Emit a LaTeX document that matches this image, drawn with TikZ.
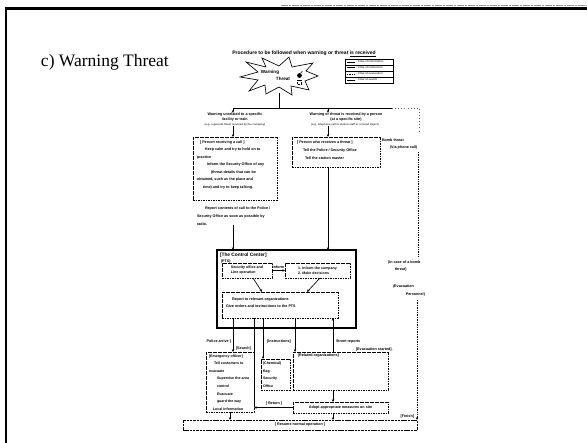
\documentclass[tikz,border=0pt]{standalone}
\usepackage{fontspec}
\setmainfont{Liberation Serif}
\setsansfont{Liberation Sans}
\usetikzlibrary{arrows.meta}
\begin{document}
\begin{tikzpicture}[x=1pt,y=-1pt,
  every node/.style={inner sep=0pt,outer sep=0pt},
  tx/.style={font=\fontsize{3.7}{4.8}\selectfont\sffamily\bfseries,text=black},
  txl/.style={font=\fontsize{3.7}{7.5}\selectfont\sffamily\bfseries,text=black,align=left},
  txs/.style={font=\fontsize{2.7}{3.2}\selectfont\sffamily\bfseries,text=black!75},
  dbox/.style={draw,line width=0.55pt,dash pattern=on 1.6pt off 0.9pt},
  arr/.style={-{Stealth[length=2.8pt,width=2.4pt]},line width=0.65pt},
  ln/.style={line width=0.65pt},
  dln/.style={line width=0.9pt,dash pattern=on 1pt off 0.7pt},
]
\useasboundingbox (0,0) rectangle (587,443);

% slide frame
\draw[line width=2.2pt] (6,443) -- (6,8.5) -- (587,8.5);
\draw[black!40,line width=0.8pt,dash pattern=on 7pt off 1pt on 2pt off 1pt] (281,5.5) -- (587,5.5);

% slide heading
\node[font=\fontsize{17.5}{20}\selectfont,anchor=base west] (head) at (41,67) {c) Warning Threat};

% chart title
\node[tx,font=\fontsize{5}{5.5}\selectfont\sffamily\bfseries,anchor=base] (title) at (304,55)
  {Procedure to be followed when warning or threat \underline{is received}};

% legend
\node[draw,line width=0.55pt,minimum width=48,minimum height=24,anchor=north west] (legend) at (345,59) {};
\draw[line width=0.45pt] (345,65) -- (393,65) (345,71) -- (393,71) (345,77) -- (393,77);
\draw[line width=0.5pt] (347,62) -- (355,62);
\draw[line width=1pt] (347,68) -- (355,68);
\draw[line width=0.5pt,dash pattern=on 1pt off 0.7pt] (347,74) -- (355,74);
\draw[line width=0.5pt,dash pattern=on 0.4pt off 0.6pt] (347,80) -- (355,80);
\node[txs,anchor=west] (lg1) at (356.5,62) {: Flow of information};
\node[txs,anchor=west] (lg2) at (356.5,68) {: Flow of instruction};
\node[txs,anchor=west] (lg3) at (356.5,74) {: Flow of evacuation};
\node[txs,anchor=west] (lg4) at (356.5,80) {: Flow of search};

% explosion symbol with the warning
\draw[line width=0.65pt,fill=white] (318,76) -- (305,81) -- (309,90) -- (291,86) -- (292,95) -- (279,87)
  -- (266,94) -- (265,85) -- (249,91) -- (258,80) -- (240,77) -- (258,72) -- (246,62) -- (266,67)
  -- (262,58) -- (279,66) -- (289,57) -- (292,67) -- (313,63) -- (306,71) -- cycle;
\node[tx,font=\fontsize{4.6}{5}\selectfont\sffamily\bfseries] (warn) at (270,72) {Warning};
\node[tx,font=\fontsize{4.6}{5}\selectfont\sffamily\bfseries] (threat) at (283,79) {Threat};
\fill (299.5,75.5) circle (2.4);
\draw[line width=0.5pt] (300.5,73.3) -- (302.5,71);
\draw[line width=0.4pt,dash pattern=on 0.8pt off 0.5pt] (297.5,80.5) rectangle (301.5,84);

% split below the warning
\coordinate (starb) at (279,93);
\coordinate (hm) at (279,108);
\coordinate (hl) at (233,108);
\coordinate (hr) at (328,108);
\coordinate (hend) at (392,108);
\draw[ln] (starb) -- (hm);
\draw[line width=0.8pt] (hl) -- (hend);

% ---------- left branch ----------
\node[tx,align=center] (lhead) at (235,117) {Warning unrelated to a specific\\facility or train};
\node[txs] (lnote) at (235,125) {(e.g. a general threat received by the company)};
\draw[arr] (hl) -- (hl |- lhead.north);
\node[dbox,minimum width=84,minimum height=63,anchor=north west] (lbox) at (193,137) {};
\draw[arr] (lnote.south -| hl) -- (hl |- lbox.north);
\node[txl,anchor=north west] (ltxt) at (197,140.5)
  {\hspace{3pt}[ Person receiving a call ]\\
   \hspace{8pt}Keep calm and try to hold on to\\
   practice\\
   \hspace{10pt}Inform the Security Office of any\\
   \hspace{14pt}(threat details that can be\\
   obtained, such as the place and\\
   \hspace{6pt}time) and try to keep talking.};
\node[txl,align=left,anchor=north west,font=\fontsize{3.7}{7.8}\selectfont\sffamily\bfseries] (rep) at (197,207)
  {\hspace{8pt}Report contents of call to the Police /\\
   Security Office as soon as possible by\\
   radio.};

% ---------- right branch ----------
\node[tx,align=center] (rhead) at (346,117) {Warning or threat is received by a person\\(at a specific site)};
\node[txs] (rnote) at (345,125) {(e.g. telephone call to station staff or a found object)};
\draw[arr] (hr) -- (hr |- rhead.north);
\node[dbox,minimum width=88,minimum height=30,anchor=north west] (rbox) at (292,137) {};
\draw[arr] (rnote.south -| hr) -- (hr |- rbox.north);
\node[txl,anchor=north west,font=\fontsize{3.7}{8}\selectfont\sffamily\bfseries] (rtxt) at (297,140.5)
  {[ Person who receives a threat ]\\
   \hspace{6pt}Tell the Police / Security Office\\
   \hspace{8pt}Tell the station master};

% outer route on the right
\draw[black!60,line width=0.5pt,dash pattern=on 0.6pt off 2.5pt] (hend) -- (419,108) -- (419,132);
\node[tx,anchor=west] (bt1) at (382,140) {Bomb threat};
\node[tx,anchor=west] (bt2) at (390,148) {(Via phone call)};
\coordinate (rv1) at (418,152);
\coordinate (rv2) at (418,257);
\draw[dln] (rv1) -- (rv2);
\node[tx,anchor=west] (rl1) at (388,263) {(In case of a bomb};
\node[tx,anchor=west] (rl2) at (395,270) {threat)};
\node[tx,anchor=west] (rl3) at (393,287) {(Evacuation};
\node[tx,anchor=east] (rl4) at (425,295) {Personnel)};
\coordinate (rv3) at (417,300);

% ---------- control center ----------
\node[draw,line width=2.8pt,minimum width=139,minimum height=78,anchor=north west] (cc) at (217,250) {};
\draw[arr] (rep.south -| hl) -- (hl |- cc.north);
\draw[arr] (rbox.south -| hr) -- (hr |- cc.north);
\node[tx,font=\fontsize{4.8}{5}\selectfont\sffamily\bfseries,anchor=base west] (cct) at (220,256.5) {[The Control Center]};
\node[tx,anchor=base west] (pts) at (221,262.5) {(PTS)};
\node[dbox,minimum width=50,minimum height=15,anchor=north west] (ca) at (222,263) {};
\node[tx,align=left,font=\fontsize{3.6}{5}\selectfont\sffamily\bfseries] (catx) at (ca.center) {Security office and\\Line operation};
\node[dbox,minimum width=65,minimum height=15,anchor=north west] (cb) at (285,263) {};
\node[tx,align=left,font=\fontsize{3.6}{5.5}\selectfont\sffamily\bfseries] (cbtx) at (cb.center) {1. Inform the company\\2. Make decisions};
\node[tx] (inf) at (278.5,267.5) {Inform};
\draw[arr] (ca.east) -- (cb.west);
\node[dbox,minimum width=116,minimum height=26,anchor=north west] (cc2) at (222,292) {};
\draw[arr] ([xshift=6pt]ca.south) -- ([xshift=-18pt]cc2.north);
\draw[arr] ([xshift=2.5pt]cb.south) -- ([xshift=27pt]cc2.north);
\node[tx,anchor=base west] (c2a) at (226,301) {\hspace{6pt}Report to relevant organizations};
\node[tx,anchor=base west] (c2b) at (226,308) {Give orders and instructions to the PTS};

% ---------- field response ----------
\coordinate (d1) at (233,318);
\coordinate (d2) at (254,318);
\coordinate (d3) at (263,318);
\coordinate (d4) at (295,318);
\coordinate (d5) at (333,318);

\node[dbox,minimum width=48,minimum height=60,anchor=north west] (lbox2) at (206,352) {};
\node[dbox,minimum width=29,minimum height=31,anchor=north west] (chem) at (261,359) {};
\node[dbox,minimum width=95,minimum height=38,anchor=north west] (rel) at (293,352) {};
\node[dbox,minimum width=95,minimum height=11,anchor=north west] (adapt) at (293,402) {};
\node[draw,line width=0.55pt,dash pattern=on 2.5pt off 0.8pt,minimum width=234,minimum height=10,anchor=north west] (bot) at (183,420) {};

\draw[arr] (d1) -- (d1 |- lbox2.north);
\draw[ln] (d2) -- (d2 |- adapt.west);
\draw[arr] (d3) -- (d3 |- chem.north);
\draw[arr] (d4) -- (d4 |- rel.north);
\draw[arr] (d5 |- rel.north) -- (d5);

\node[tx,anchor=east] (pol) at (231,342) {Police arrive ]};
\node[tx,anchor=west] (srch) at (236,349) {[Search]};
\node[tx] (instr) at (279,342) {[Instructions]};
\node[tx,anchor=west] (strep) at (336,342) {Street reports};
\node[tx,anchor=west] (evg) at (356,350) {[Evacuation started].};

\node[txl,anchor=north west,font=\fontsize{3.6}{7.6}\selectfont\sffamily\bfseries] (l2txt) at (209,354.5)
  {[Emergency officer]\\
   \hspace{5pt}Tell customers to\\
   evacuate\\
   \hspace{8pt}Supervise the area\\
   \hspace{8pt}control\\
   \hspace{8pt}Evacuate\\
   \hspace{8pt}guard the way\\
   \hspace{4pt}Local information};
\node[txl,anchor=north west,font=\fontsize{3.6}{7.9}\selectfont\sffamily\bfseries] (chtxt) at (263,361.5)
  {(Chemical)\\Bag\\Security\\Office};
\node[tx,anchor=base west] (reltx) at (298,357) {[Related organizations]};
\node[tx] (adtx) at (adapt.center) {Adopt appropriate measures on site};

\draw[arr] (d5 |- rel.south) -- (d5 |- adapt.north);
\draw[arr] (adapt.west) -- (adapt.west -| d2);
\node[tx] (ret) at (274,404) {[ Return ]};
\draw[arr] (lbox2.south) -- (lbox2.south |- bot.north);
\draw[arr] (d5 |- adapt.south) -- (d5 |- bot.north);
\draw[dln,-{Stealth[length=2.8pt,width=2.4pt]}] (rv3) -- (bot.north east);
\node[tx,anchor=east] (fin) at (414,417) {[Finish]};
\node[tx] (bottx) at (bot.center) {[ Resume normal operation ]};
\end{tikzpicture}
\end{document}
